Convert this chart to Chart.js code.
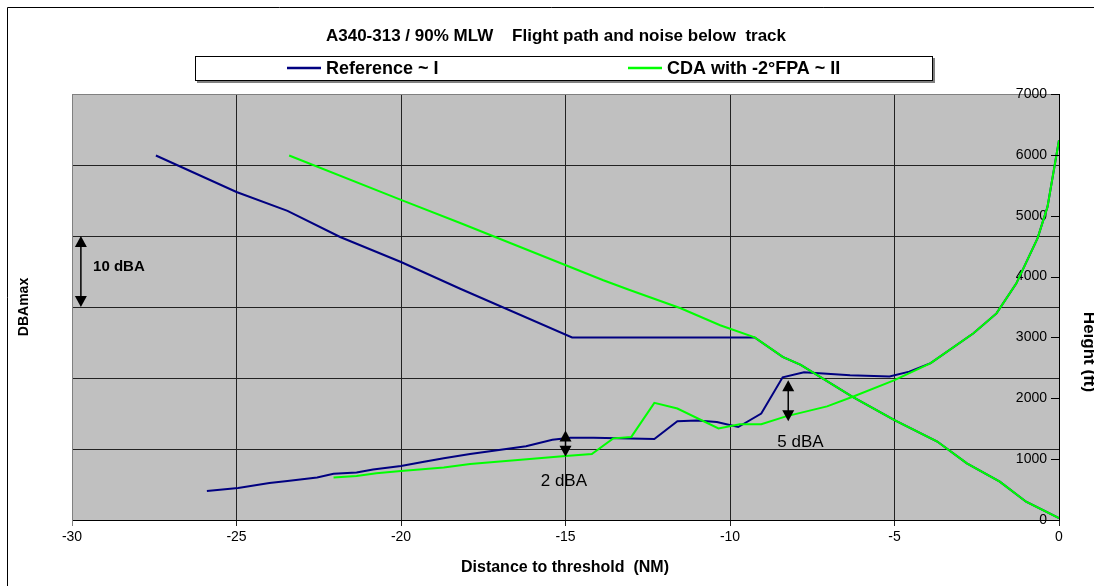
<!DOCTYPE html>
<html>
<head>
<meta charset="utf-8">
<script src="https://cdn.jsdelivr.net/npm/chart.js@4/dist/chart.umd.min.js"></script>
<style>
  html, body { margin: 0; padding: 0; background: #ffffff; }
  #wrap { width: 1094px; height: 586px; position: relative; }
</style>
</head>
<body>
<div id="wrap"><canvas id="chart"></canvas></div>
<script>
// Tick labels
const distanceTicks = [-30, -25, -20, -15, -10, -5, 0];
const heightTicks = [0, 1000, 2000, 3000, 4000, 5000, 6000, 7000];
const noiseTicks = [40, 50, 60, 70, 80, 90, 100];

// Flight path (height, ft) vs distance to threshold (NM)
const refPathNm = [-27.45, -25.0, -23.45, -21.85, -20.0, -18.2, -14.8, -9.25, -8.4, -7.85, -6.3, -5.0, -3.7, -2.8, -1.8, -1.0, 0];
const refPathFt = [5990, 5390, 5080, 4650, 4240, 3800, 3000, 3000, 2680, 2550, 2030, 1640, 1290, 930, 630, 300, 30];
const cdaPathNm = [-23.4, -20.0, -18.2, -13.85, -13.05, -11.5, -10.3, -9.25, -8.4, -7.85, -6.3, -5.0, -3.7, -2.8, -1.8, -1.0, 0];
const cdaPathFt = [5990, 5260, 4880, 3940, 3780, 3480, 3200, 3000, 2680, 2550, 2030, 1640, 1290, 930, 630, 300, 30];

// Noise below track (dBA max)
const refNoiseNm = [-25.9, -24.95, -24.0, -23.45, -22.55, -22.05, -21.35, -20.85, -20.0, -19.3, -18.7, -17.9, -16.2, -15.4, -14.85, -14.15, -12.3, -11.6, -11.0, -10.4, -9.75, -9.05, -8.4, -7.75, -6.35, -5.15, -4.55, -3.9, -2.6, -1.9, -1.3, -0.65, -0.35, 0];
const refNoiseDb = [44.1, 44.5, 45.2, 45.5, 46.0, 46.5, 46.7, 47.1, 47.6, 48.2, 48.7, 49.3, 50.4, 51.3, 51.6, 51.6, 51.4, 53.9, 54.0, 53.8, 53.1, 55.0, 60.1, 60.8, 60.4, 60.2, 60.9, 62.1, 66.3, 69.1, 73.3, 79.7, 84.1, 93.5];
const cdaNoiseNm = [-22.05, -21.35, -20.75, -20.0, -18.7, -17.9, -15.0, -14.2, -13.55, -13.0, -12.3, -11.6, -10.35, -9.7, -9.05, -8.3, -7.05, -6.25, -5.0, -3.9, -2.6, -1.9, -1.3, -0.65, -0.35, 0];
const cdaNoiseDb = [46.0, 46.2, 46.6, 46.9, 47.4, 47.9, 49.0, 49.3, 51.5, 51.7, 56.5, 55.7, 52.9, 53.5, 53.5, 54.6, 56.0, 57.4, 59.7, 62.1, 66.3, 69.1, 73.3, 79.7, 84.1, 93.5];

const seriesNames = ['Reference ~ I', 'CDA with -2°FPA ~ II'];
const seriesColors = ['#000080', '#00ff00'];

function pts(xs, ys) {
  return xs.map((x, i) => ({ x: x, y: ys[i] }));
}

const FONT = '"Liberation Sans", Arial, sans-serif';

// difference markers, given in chart units
const markers = [
  { nm: -29.73, top: 80, bottom: 70, text: '10 dBA', tx: -29.36, ty: 75.6, bold: true, size: 15, align: 'left' },
  { nm: -15.0, top: 52.6, bottom: 48.9, text: '2 dBA', tx: -15.05, ty: 45.4, bold: false, size: 17, align: 'center' },
  { nm: -8.23, top: 59.7, bottom: 53.9, text: '5 dBA', tx: -7.86, ty: 51.0, bold: false, size: 17, align: 'center' }
];

function drawArrow(ctx, x, y1, y2) {
  ctx.save();
  ctx.strokeStyle = '#000';
  ctx.fillStyle = '#000';
  ctx.lineWidth = 1.5;
  ctx.beginPath();
  ctx.moveTo(x, y1 + 8);
  ctx.lineTo(x, y2 - 8);
  ctx.stroke();
  ctx.beginPath();
  ctx.moveTo(x, y1);
  ctx.lineTo(x - 6, y1 + 11);
  ctx.lineTo(x + 6, y1 + 11);
  ctx.closePath();
  ctx.fill();
  ctx.beginPath();
  ctx.moveTo(x, y2);
  ctx.lineTo(x - 6, y2 - 11);
  ctx.lineTo(x + 6, y2 - 11);
  ctx.closePath();
  ctx.fill();
  ctx.restore();
}

const decor = {
  id: 'decor',
  beforeDraw(chart) {
    const ctx = chart.ctx;
    const a = chart.chartArea;
    ctx.save();
    ctx.fillStyle = '#c0c0c0';
    ctx.fillRect(a.left, a.top, a.right - a.left, a.bottom - a.top);
    ctx.restore();
  },
  afterDraw(chart) {
    const ctx = chart.ctx;
    const a = chart.chartArea;
    const xs = chart.scales.x;
    const yn = chart.scales.noise;
    const yh = chart.scales.height;
    ctx.save();

    // outer frame
    ctx.strokeStyle = '#000';
    ctx.lineWidth = 1;
    ctx.beginPath();
    ctx.moveTo(7.5, 600);
    ctx.lineTo(7.5, 7.5);
    ctx.lineTo(1100, 7.5);
    ctx.stroke();

    // title
    ctx.fillStyle = '#000';
    ctx.font = 'bold 17px ' + FONT;
    ctx.textAlign = 'center';
    ctx.textBaseline = 'middle';
    ctx.fillText('A340-313 / 90% MLW    Flight path and noise below  track', 556, 36);

    // legend box
    ctx.fillStyle = '#808080';
    ctx.fillRect(197, 58, 738, 25);
    ctx.fillStyle = '#fff';
    ctx.fillRect(195.5, 56.5, 737, 24);
    ctx.strokeStyle = '#000';
    ctx.strokeRect(195.5, 56.5, 737, 24);
    const legX = [287, 628];
    ctx.font = 'bold 18px ' + FONT;
    ctx.textAlign = 'left';
    seriesNames.forEach((name, i) => {
      ctx.strokeStyle = seriesColors[i];
      ctx.lineWidth = 2.5;
      ctx.beginPath();
      ctx.moveTo(legX[i], 68);
      ctx.lineTo(legX[i] + 34, 68);
      ctx.stroke();
      ctx.fillStyle = '#000';
      ctx.fillText(name, legX[i] + 39, 69);
    });

    // axis titles
    ctx.font = 'bold 16px ' + FONT;
    ctx.textAlign = 'center';
    ctx.fillText('Distance to threshold  (NM)', 565, 568);
    ctx.save();
    ctx.translate(24, 307);
    ctx.rotate(-Math.PI / 2);
    ctx.font = 'bold 14px ' + FONT;
    ctx.fillText('DBAmax', 0, 0);
    ctx.restore();
    ctx.save();
    ctx.translate(1089, 352);
    ctx.rotate(Math.PI / 2);
    ctx.font = 'bold 17px ' + FONT;
    ctx.fillText('Height (ft)', 0, 0);
    ctx.restore();

    // inner tick marks of the height axis
    ctx.strokeStyle = '#000';
    ctx.lineWidth = 1;
    heightTicks.forEach(v => {
      const y = Math.round(yh.getPixelForValue(v)) + 0.5;
      ctx.beginPath();
      ctx.moveTo(a.right - 8, y);
      ctx.lineTo(a.right, y);
      ctx.stroke();
    });

    // dBA difference markers
    markers.forEach(m => {
      const x = xs.getPixelForValue(m.nm);
      drawArrow(ctx, x, yn.getPixelForValue(m.top), yn.getPixelForValue(m.bottom));
      ctx.fillStyle = '#000';
      ctx.font = (m.bold ? 'bold ' : '') + m.size + 'px ' + FONT;
      ctx.textAlign = m.align;
      ctx.textBaseline = 'middle';
      ctx.fillText(m.text, xs.getPixelForValue(m.tx), yn.getPixelForValue(m.ty));
    });
    ctx.restore();
  }
};

const lineStyle = { borderWidth: 2, pointRadius: 0, tension: 0, fill: false };

new Chart(document.getElementById('chart'), {
  type: 'line',
  data: {
    datasets: [
      Object.assign({ label: seriesNames[0], data: pts(refPathNm, refPathFt), borderColor: seriesColors[0], yAxisID: 'height', order: 2 }, lineStyle),
      Object.assign({ label: seriesNames[0], data: pts(refNoiseNm, refNoiseDb), borderColor: seriesColors[0], yAxisID: 'noise', order: 2 }, lineStyle),
      Object.assign({ label: seriesNames[1], data: pts(cdaPathNm, cdaPathFt), borderColor: seriesColors[1], yAxisID: 'height', order: 1 }, lineStyle),
      Object.assign({ label: seriesNames[1], data: pts(cdaNoiseNm, cdaNoiseDb), borderColor: seriesColors[1], yAxisID: 'noise', order: 1 }, lineStyle)
    ]
  },
  options: {
    responsive: true,
    maintainAspectRatio: false,
    animation: false,
    layout: { padding: { top: 94, left: 0, right: 0, bottom: 0 } },
    plugins: {
      legend: { display: false },
      title: { display: false },
      tooltip: { enabled: false }
    },
    scales: {
      x: {
        type: 'linear',
        min: -30,
        max: 0,
        afterBuildTicks: s => { s.ticks = distanceTicks.map(v => ({ value: v })); },
        afterFit: s => { s.height = 66; },
        grid: {
          color: c => (c.index === 0 ? '#808080' : '#222'),
          lineWidth: 1,
          tickLength: 6
        },
        border: { color: '#000' },
        ticks: { color: '#000', font: { family: FONT, size: 14 }, padding: 3, maxRotation: 0, callback: v => String(v) }
      },
      noise: {
        type: 'linear',
        position: 'left',
        min: 40,
        max: 100,
        afterBuildTicks: s => { s.ticks = noiseTicks.map(v => ({ value: v })); },
        afterFit: s => { s.width = 72; },
        grid: {
          color: c => (c.index === noiseTicks.length - 1 ? '#808080' : '#222'),
          drawTicks: false
        },
        border: { color: '#808080' },
        ticks: { display: false }
      },
      height: {
        type: 'linear',
        position: 'right',
        min: 0,
        max: 7000,
        afterBuildTicks: s => { s.ticks = heightTicks.map(v => ({ value: v })); },
        afterFit: s => { s.width = 35; },
        grid: { drawOnChartArea: false, drawTicks: false },
        border: { color: '#000' },
        ticks: { mirror: true, padding: -12, color: '#000', font: { family: FONT, size: 14 }, callback: v => String(v) }
      }
    }
  },
  plugins: [decor]
});
</script>
</body>
</html>
